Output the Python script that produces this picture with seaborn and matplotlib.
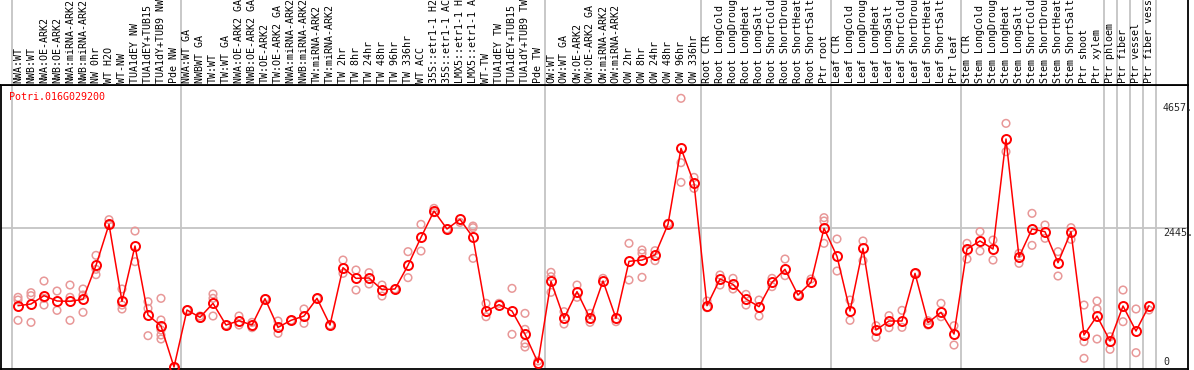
import seaborn as sns
import pandas as pd
import numpy as np
import matplotlib.pyplot as plt

sns.set_theme(style='white')
plt.rcParams['font.family'] = ['DejaVu Sans Mono']

gene = 'Potri.016G029200'

samples = [
    'NWA:WT', 'NWB:WT', 'NWA:OE-ARK2', 'NWB:OE-ARK2', 'NWA:miRNA-ARK2', 'NWB:miRNA-ARK2',
    'NW 0hr', 'WT H2O', 'WT-NW', 'TUA1dEY NW', 'TUA1dEY+TUB15 NW', 'TUA1dY+TUB9 NW', 'Pde NW',
    'NWA:WT GA', 'NWBWT GA', 'TW:WT', 'TW:WT GA', 'NWA:OE-ARK2 GA', 'NWB:OE-ARK2 GA',
    'TW:OE-ARK2', 'TW:OE-ARK2 GA', 'NWA:miRNA-ARK2 GA', 'NWB:miRNA-ARK2 GA', 'TW:miRNA-ARK2',
    'TW:miRNA-ARK2 GA', 'TW 2hr', 'TW 8hr', 'TW 24hr', 'TW 48hr', 'TW 96hr', 'TW 336hr',
    'WT ACC', '35S::etr1-1 H2O', '35S::etr1-1 ACC', 'LMX5::etr1-1 H2O', 'LMX5::etr1-1 ACC',
    'WT-TW', 'TUA1dEY TW', 'TUA1dEY+TUB15 TW', 'TUA1dY+TUB9 TW', 'Pde TW',
    'OW:WT', 'OW:WT GA', 'OW:OE-ARK2', 'OW:OE-ARK2 GA', 'OW:miRNA-ARK2', 'OW:miRNA-ARK2 GA',
    'OW 2hr', 'OW 8hr', 'OW 24hr', 'OW 48hr', 'OW 96hr', 'OW 336hr',
    'Root CTR', 'Root LongCold', 'Root LongDrought', 'Root LongHeat', 'Root LongSalt',
    'Root ShortCold', 'Root ShortDrought', 'Root ShortHeat', 'Root ShortSalt', 'Ptr root',
    'Leaf CTR', 'Leaf LongCold', 'Leaf LongDrought', 'Leaf LongHeat', 'Leaf LongSalt',
    'Leaf ShortCold', 'Leaf ShortDrought', 'Leaf ShortHeat', 'Leaf ShortSalt', 'Ptr leaf',
    'Stem CTR', 'Stem LongCold', 'Stem LongDrought', 'Stem LongHeat', 'Stem LongSalt',
    'Stem ShortCold', 'Stem ShortDrought', 'Stem ShortHeat', 'Stem ShortSalt',
    'Ptr shoot', 'Ptr xylem', 'Ptr phloem', 'Ptr fiber', 'Ptr vessel', 'Ptr fiber vessel',
]

means = [
    1082, 1112, 1259, 1165, 1159, 1194, 1794, 2518, 1159, 2136, 918, 724, 0,
    1006, 877, 1124, 741, 818, 741, 1206, 700, 824, 900, 1212, 741,
    1753, 1565, 1571, 1365, 1377, 1794, 2288, 2753, 2436, 2606, 2288,
    982, 1100, 988, 577, 76,
    1512, 859, 1330, 859, 1518, 859, 1865, 1888, 1977, 2518, 3859, 3242,
    1082, 1553, 1459, 1200, 1065, 1494, 1724, 1271, 1494, 2447,
    1953, 988, 2094, 653, 812, 812, 1653, 782, 965, 582,
    2083, 2224, 2083, 4024, 1941, 2436, 2388, 1841, 2388,
    565, 900, 459, 1077, 635, 1082,
]

replicates = [
    [1230, 1182, 824], [1312, 1259, 788], [1518, 1094, 1212], [1341, 1000],
    [1447, 1230, 824], [1377, 1271, 965], [1971, 1724, 1630], [2600, 2506],
    [1377, 1094, 1024], [2400, 1859], [1153, 1035, 553], [1212, 830, 653, 565, 494], [0],
    [1006], [900, 859], [1288, 1212, 900], [741], [900, 741], [788, 694],
    [1206], [812, 594], [824], [1024, 771], [1212], [741],
    [1888, 1653], [1712, 1359], [1665, 1465], [1447, 1253], [1377], [2036, 1577],
    [2518, 2047], [2800, 2724], [2436], [2553], [2488, 2459, 1918],
    [1124, 888], [1124], [1388, 577], [947, 665, 418, 353], [106],
    [1671, 1594, 1318], [977, 759], [1447, 1230], [947, 788], [1565], [800],
    [2183, 1535], [2065, 2006, 1583], [2053, 1877], [2536], [4742, 3606, 3259], [3347, 3153],
    [1165, 1047], [1624, 1447], [1565, 1377], [1282, 1094], [1182, 900],
    [1565, 1418], [1906, 1612], [1271], [1553], [2636, 2577, 2183],
    [2259, 1694], [1182, 824], [2224, 1877], [729, 524], [906, 694],
    [1000, 700], [1653], [818, 741], [1124, 888], [729, 388],
    [2183, 1906], [2388, 2047], [2241, 1888], [4300, 3800], [2006, 1830],
    [2712, 2147], [2506, 2271], [2036, 1606], [2459, 2253],
    [1094, 447, 153], [1165, 1024, 494], [535, 312], [1359, 800], [1024, 253], [1006],
]

# last sample index of each experiment group
group_ends = [-1, 12, 40, 52, 62, 72, 83, 84, 85, 86, 87]
ref_values = [4657, 2445, 0]

idx = np.arange(len(samples))
mean_df = pd.DataFrame({'i': idx, 'sample': samples, 'value': means})
rep_df = pd.DataFrame([(i, v) for i, reps in enumerate(replicates) for v in reps],
                      columns=['i', 'value'])

W, H = 1194, 370
fig = plt.figure(figsize=(W / 100, H / 100), dpi=100)
ax = fig.add_axes([1 / W, 1 / H, 1187 / W, 284 / H])
hx = fig.add_axes([1 / W, 285 / H, 1187 / W, 85 / H])

xlim = (-17 / 13, 1170 / 13)
ax.set_xlim(xlim)
ax.set_ylim(-35, 4977)
hx.set_xlim(xlim)
hx.set_ylim(0, 1)

for a in (ax, hx):
    a.set_xticks([])
    a.set_yticks([])
    a.set_xlabel('')
    a.set_ylabel('')
    for b in group_ends:
        a.axvline(b + 0.5, color='#c4c4c4', lw=1.3, zorder=0)

for s in ax.spines.values():
    s.set_color('black')
    s.set_linewidth(1.3)
for name, s in hx.spines.items():
    s.set_visible(name in ('bottom', 'right'))
    s.set_color('black')
    s.set_linewidth(1.3)

ax.axhline(ref_values[1], color='#c4c4c4', lw=1.3, zorder=0)

sns.scatterplot(data=rep_df, x='i', y='value', ax=ax, marker='o', s=30,
                facecolor='none', edgecolor='#e89898', linewidth=1.1, zorder=2)
sns.lineplot(data=mean_df, x='i', y='value', ax=ax, color='red', lw=1.1,
             marker='o', markersize=6.5, markerfacecolor='none',
             markeredgecolor='red', markeredgewidth=1.4, zorder=3)
ax.set_xlabel('')
ax.set_ylabel('')

for i, name in enumerate(samples):
    hx.text(i, 2 / 85, name, rotation=90, ha='center', va='bottom',
            fontsize=7.2, color='black', clip_on=True)

ax.annotate(gene, xy=(0, 1), xycoords='axes fraction', xytext=(8, -12),
            textcoords='offset pixels', va='center', ha='left',
            fontsize=7.2, color='red')

lx = 1145 / 13
ax.text(lx, ref_values[0], f'{ref_values[0]}.', ha='left', va='top', fontsize=7.2)
ax.text(lx, ref_values[1], f'{ref_values[1]}.', ha='left', va='top', fontsize=7.2)
ax.text(lx, ref_values[2], f'{ref_values[2]}', ha='left', va='bottom', fontsize=7.2)

fig.savefig('out.png', dpi=100)
